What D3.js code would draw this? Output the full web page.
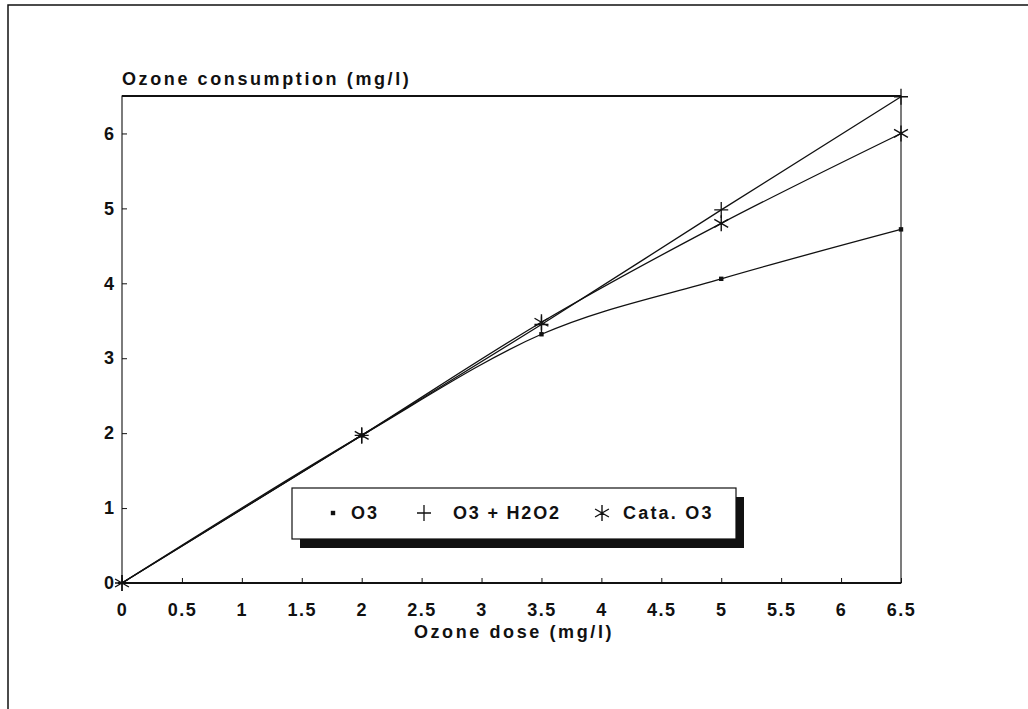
<!DOCTYPE html>
<html><head><meta charset="utf-8">
<script src="https://cdn.jsdelivr.net/npm/d3@7"></script>
<style>
body{margin:0;background:#fff;}
text{font-family:"Liberation Sans",Arial,sans-serif;font-weight:bold;fill:#111;}
</style></head><body>
<svg id="chart" width="1028" height="709"></svg>
<script>
const doses = [0, 2, 3.5, 5, 6.5];
const o3 = [0, 1.97, 3.32, 4.06, 4.72];
const o3h2o2 = [0, 1.97, 3.45, 4.98, 6.49];
const catao3 = [0, 1.97, 3.48, 4.8, 6.0];
const xTicks = [0,0.5,1,1.5,2,2.5,3,3.5,4,4.5,5,5.5,6,6.5];
const yTicks = [0,1,2,3,4,5,6];
const seriesNames = ["O3", "O3 + H2O2", "Cata. O3"];

const FONT = '"Liberation Sans",Arial,sans-serif';
const FS = 18;
const svg = d3.select("#chart");
const ink = "#111";
const L=122, R=901, T=96, B=583;
const x = d3.scaleLinear().domain([0,6.5]).range([L,R]);
const y = d3.scaleLinear().domain([0,6.5]).range([B,T]);

// outer frame
svg.append("rect").attr("x",8).attr("y",5).attr("width",1030).attr("height",720)
  .attr("fill","none").attr("stroke",ink).attr("stroke-width",1.5);

// plot frame
svg.append("rect").attr("x",L).attr("y",T).attr("width",R-L).attr("height",B-T)
  .attr("fill","none").attr("stroke",ink).attr("stroke-width",1.1);
svg.append("line").attr("x1",L).attr("x2",R).attr("y1",T).attr("y2",T).attr("stroke",ink).attr("stroke-width",2);
svg.append("line").attr("x1",L-4).attr("x2",R).attr("y1",B).attr("y2",B).attr("stroke",ink).attr("stroke-width",2);

function styleText(sel, ls){
  sel.attr("font-size",FS).attr("font-family",FONT).attr("font-weight","bold").attr("fill",ink).attr("letter-spacing",ls===undefined?"2.6":ls);
}
// axes
const xAxis = d3.axisBottom(x).tickValues(xTicks).tickSize(-5).tickPadding(20).tickFormat(d3.format(""));
const gx = svg.append("g").attr("transform",`translate(0,${B})`).call(xAxis);
gx.select(".domain").remove();
gx.selectAll("line").attr("stroke",ink);
styleText(gx.selectAll("text"), "1.5");

const yAxis = d3.axisLeft(y).tickValues(yTicks).tickSize(-5).tickPadding(8).tickFormat(d3.format("d"));
const gy = svg.append("g").attr("transform",`translate(${L},0)`).call(yAxis);
gy.select(".domain").remove();
gy.selectAll("line").attr("stroke",ink);
styleText(gy.selectAll("text"), "0");

styleText(svg.append("text").attr("x",L).attr("y",85).text("Ozone consumption (mg/l)"));
styleText(svg.append("text").attr("x",514).attr("y",638).attr("text-anchor","middle").text("Ozone dose (mg/l)"));

// lines
const line = d3.line().x((d,i)=>x(doses[i])).y(d=>y(d)).curve(d3.curveMonotoneX);
[o3,o3h2o2,catao3].forEach(s=>{
  svg.append("path").attr("d",line(s)).attr("fill","none").attr("stroke",ink).attr("stroke-width",1.3);
});

function square(g,cx,cy){ g.append("rect").attr("x",cx-2.2).attr("y",cy-2.2).attr("width",4.4).attr("height",4.4).attr("fill",ink); }
function plus(g,cx,cy){
  g.append("path").attr("d",`M${cx-7},${cy}H${cx+7}M${cx},${cy-8}V${cy+8}`).attr("stroke",ink).attr("stroke-width",1.3).attr("fill","none");
}
function star(g,cx,cy){
  let d="";
  for(let k=0;k<6;k++){const a=Math.PI/2+k*Math.PI/3; const r=8; d+=`M${cx},${cy}L${cx+r*Math.cos(a)},${cy-r*Math.sin(a)}`;}
  g.append("path").attr("d",d).attr("stroke",ink).attr("stroke-width",1.4).attr("fill","none");
}

// legend
const lg = svg.append("g");
lg.append("rect").attr("x",300).attr("y",497).attr("width",444).attr("height",51).attr("fill",ink);
lg.append("rect").attr("x",292).attr("y",488).attr("width",444).attr("height",51).attr("fill","#fff").attr("stroke",ink).attr("stroke-width",1.2);
const ly = 519;
square(lg,333,ly-6);
styleText(lg.append("text").attr("x",351).attr("y",ly).text(seriesNames[0]), "2");
plus(lg,424,ly-6);
styleText(lg.append("text").attr("x",453).attr("y",ly).text(seriesNames[1]), "1.8");
star(lg,602,ly-6);
styleText(lg.append("text").attr("x",623).attr("y",ly).text(seriesNames[2]), "2.2");

const mk = svg.append("g");
doses.forEach((d,i)=>{
  if(i>0) square(mk,x(d),y(o3[i]));
  plus(mk,x(d),y(o3h2o2[i]));
  star(mk,x(d),y(catao3[i]));
});
</script></body></html>
